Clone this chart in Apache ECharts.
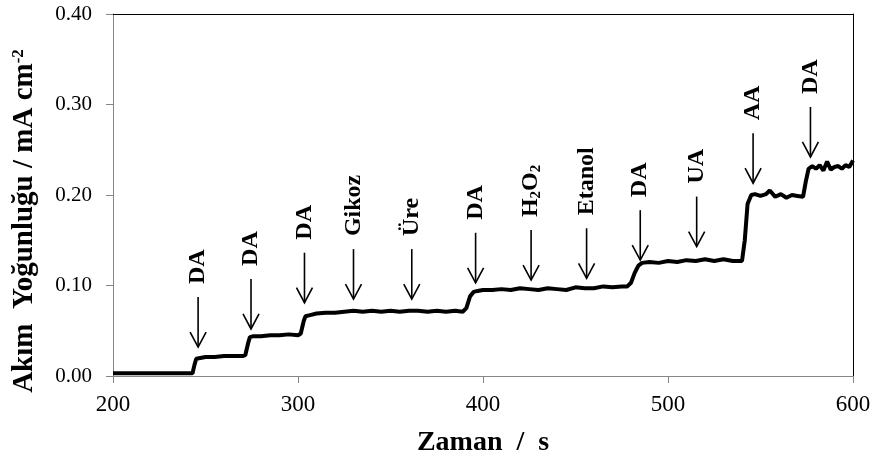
<!DOCTYPE html>
<html>
<head>
<meta charset="utf-8">
<script src="https://cdn.jsdelivr.net/npm/echarts@6/dist/echarts.min.js"></script>
<style>
  html, body { margin: 0; padding: 0; background: #fff; }
  #chart { width: 874px; height: 467px; }
</style>
</head>
<body>
<div id="chart"></div>
<script>
// zaman (s)
const timeS = [
  200, 243, 244, 245, 246, 250, 255, 260, 265, 270, 271.5, 273, 274, 276, 280, 285, 290, 295, 300,
  301.5, 303, 304, 306, 310, 315, 320, 325, 330, 335, 340, 345, 350, 355, 360, 365, 370, 375, 380,
  385, 389, 391, 393, 395, 397, 400, 405, 410, 415, 420, 425, 430, 435, 440, 445, 450, 455, 460,
  465, 470, 475, 478, 480, 482, 484, 486, 490, 495, 500, 505, 510, 515, 520, 525, 530, 535, 540,
  541.5, 543, 545, 547, 550, 553, 555, 558, 561, 564, 567, 570, 573, 574.5, 576, 578, 580, 582,
  584, 586, 588, 590, 592, 594, 596, 598, 600
];
// akım yoğunluğu (mA cm-2)
const currentDensity = [
  0.003, 0.003, 0.012, 0.019, 0.021, 0.021, 0.021, 0.022, 0.022, 0.022, 0.023, 0.036, 0.043, 0.044, 0.044, 0.045, 0.045, 0.046, 0.045,
  0.047, 0.060, 0.066, 0.067, 0.069, 0.070, 0.070, 0.071, 0.072, 0.071, 0.072, 0.071, 0.072, 0.071, 0.072, 0.072, 0.071, 0.072, 0.071,
  0.072, 0.071, 0.075, 0.088, 0.093, 0.094, 0.095, 0.095, 0.096, 0.095, 0.097, 0.096, 0.095, 0.097, 0.096, 0.095, 0.098, 0.097, 0.097,
  0.099, 0.098, 0.099, 0.099, 0.103, 0.114, 0.122, 0.125, 0.126, 0.125, 0.127, 0.126, 0.128, 0.127, 0.129, 0.127, 0.129, 0.127, 0.127,
  0.150, 0.190, 0.200, 0.201, 0.199, 0.201, 0.205, 0.198, 0.201, 0.197, 0.200, 0.199, 0.198, 0.215, 0.229, 0.232, 0.229, 0.233,
  0.227, 0.237, 0.228, 0.231, 0.232, 0.229, 0.233, 0.231, 0.238
];

// eklemeler (ok işaretleri)
const arrowTimes = [246, 274.6, 303.5, 330, 361.5, 396, 426, 456, 485, 515.5, 546, 577];
const arrowTips = [0.032, 0.052, 0.081, 0.085, 0.085, 0.103, 0.106, 0.108, 0.128, 0.143, 0.213, 0.242];
const arrowLabels = ['DA', 'DA', 'DA', 'Gikoz', 'Üre', 'DA', 'H{sub|2}O{sub|2}', 'Etanol', 'DA', 'UA', 'AA', 'DA'];

const xTitle = 'Zaman  /  s';
const yTitle = 'Akım  Yoğunluğu / mA cm{sup|-2}';

const serif = '"Liberation Serif", "Times New Roman", serif';
const axisGray = '#868686';

const chart = echarts.init(document.getElementById('chart'), null, { renderer: 'canvas' });

const arrowData = arrowTimes.map((t, i) => [t, arrowTips[i], i]);

function renderArrow(params, api) {
  const tip = api.coord([api.value(0), api.value(1)]);
  const len = 50;
  const top = tip[1] - len;
  const label = arrowLabels[api.value(2)];
  return {
    type: 'group',
    children: [
      {
        type: 'line',
        shape: { x1: tip[0], y1: top, x2: tip[0], y2: tip[1] },
        style: { stroke: '#000', lineWidth: 1.6 }
      },
      {
        type: 'polyline',
        shape: { points: [[tip[0] - 8, tip[1] - 15], [tip[0], tip[1]], [tip[0] + 8, tip[1] - 15]] },
        style: { stroke: '#000', lineWidth: 1.6, fill: null }
      },
      {
        type: 'text',
        x: tip[0],
        y: top - 13,
        rotation: Math.PI / 2,
        style: {
          text: label,
          fontFamily: serif,
          fontWeight: 'bold',
          fontSize: 24,
          fill: '#000',
          align: 'left',
          verticalAlign: 'middle',
          rich: {
            sub: {
              fontFamily: serif,
              fontWeight: 'bold',
              fontSize: 15,
              verticalAlign: 'bottom',
              padding: [10, 0, 0, 0]
            }
          }
        }
      }
    ]
  };
}

const option = {
  animation: false,
  backgroundColor: '#fff',
  grid: { left: 113, right: 21, top: 14, bottom: 91, containLabel: false },
  xAxis: [
    {
      type: 'value',
      min: 200,
      max: 600,
      interval: 100,
      name: xTitle,
      nameLocation: 'middle',
      nameGap: 53,
      nameTextStyle: { fontFamily: serif, fontWeight: 'bold', fontSize: 28, color: '#000', verticalAlign: 'top' },
      axisLine: { lineStyle: { color: axisGray, width: 1 } },
      axisTick: { show: true, inside: false, length: 7, lineStyle: { color: axisGray } },
      axisLabel: { fontFamily: serif, fontSize: 23, color: '#000', margin: 17 },
      splitLine: { show: false }
    },
    {
      type: 'value',
      position: 'top',
      min: 200,
      max: 600,
      axisLine: { show: true, onZero: false, lineStyle: { color: '#000', width: 1 } },
      axisTick: { show: false },
      axisLabel: { show: false },
      splitLine: { show: false }
    }
  ],
  yAxis: [
    {
      type: 'value',
      min: 0,
      max: 0.4,
      interval: 0.1,
      axisLine: { show: true, lineStyle: { color: axisGray, width: 1 } },
      axisTick: { show: true, inside: false, length: 7, lineStyle: { color: axisGray } },
      axisLabel: {
        fontFamily: serif,
        fontSize: 21,
        color: '#000',
        margin: 21,
        formatter: v => v.toFixed(2)
      },
      splitLine: { show: false }
    },
    {
      type: 'value',
      position: 'right',
      min: 0,
      max: 0.4,
      axisLine: { show: true, onZero: false, lineStyle: { color: '#000', width: 1 } },
      axisTick: { show: false },
      axisLabel: { show: false },
      splitLine: { show: false }
    }
  ],
  graphic: [
    {
      type: 'text',
      x: 25,
      y: 221,
      rotation: Math.PI / 2,
      style: {
        text: yTitle,
        fontFamily: serif,
        fontWeight: 'bold',
        fontSize: 29,
        fill: '#000',
        align: 'center',
        verticalAlign: 'middle',
        rich: {
          sup: {
            fontFamily: serif,
            fontWeight: 'bold',
            fontSize: 17,
            verticalAlign: 'top',
            padding: [0, 0, 12, 0]
          }
        }
      }
    }
  ],
  series: [
    {
      type: 'line',
      data: timeS.map((t, i) => [t, currentDensity[i]]),
      showSymbol: false,
      lineStyle: { color: '#000', width: 4 },
      z: 3
    },
    {
      type: 'custom',
      data: arrowData,
      encode: { x: 0, y: 1 },
      renderItem: renderArrow,
      clip: false,
      z: 4
    }
  ]
};

chart.setOption(option);
</script>
</body>
</html>
